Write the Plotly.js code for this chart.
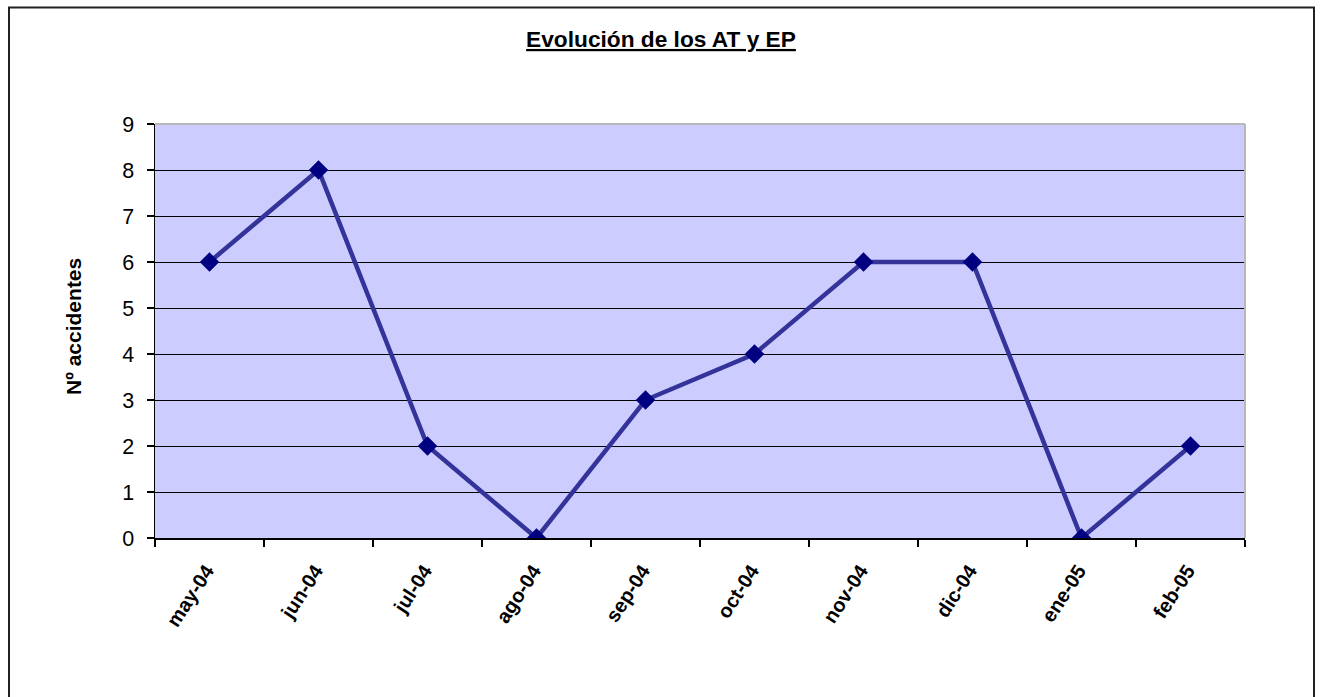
<!DOCTYPE html>
<html>
<head>
<meta charset="utf-8">
<script src="https://cdn.plot.ly/plotly-3.0.1.min.js"></script>
<style>html,body{margin:0;padding:0;background:#fff;}</style>
</head>
<body>
<div id="chart" style="width:1322px;height:697px;"></div>
<script>
const months = ["may-04","jun-04","jul-04","ago-04","sep-04","oct-04","nov-04","dic-04","ene-05","feb-05"];
const accidents = [6, 8, 2, 0, 3, 4, 6, 6, 0, 2];
const yTicks = [0,1,2,3,4,5,6,7,8,9];
const chartTitle = "Evolución de los AT y EP";
const yTitle = "Nº accidentes";

const L = 155, R = 1245, T = 124, B = 538, W = 1322, H = 697;
const pw = R - L, ph = B - T;
const px = v => (v - L) / pw;
const py = v => (B - v) / ph;

const trace = {
  x: months,
  y: accidents,
  type: "scatter",
  mode: "lines+markers",
  line: {color: "#333399", width: 4.5},
  marker: {symbol: "diamond", size: 15, color: "#000080", line: {width: 0}},
  hoverinfo: "x+y"
};

const layout = {
  width: W, height: H,
  margin: {l: L, r: W - R, t: T, b: H - B, pad: 0},
  paper_bgcolor: "#ffffff",
  plot_bgcolor: "#CCCCFF",
  showlegend: false,
  font: {family: "Liberation Sans, Arial, sans-serif", color: "#000"},
  title: {
    text: "<b><u>" + chartTitle + "</u></b>",
    font: {size: 22.7, color: "#000"},
    x: 0.5, xref: "container", xanchor: "center",
    y: 1 - 39 / H, yref: "container", yanchor: "middle"
  },
  xaxis: {
    type: "category",
    tickson: "boundaries",
    tickvals: months,
    ticktext: months.map(m => m + "\u00a0"),
    ticks: "outside", ticklen: 7, tickwidth: 1.5, tickcolor: "#000",
    ticklabelstandoff: 7,
    showline: true, linecolor: "#000", linewidth: 1.5,
    showgrid: false, zeroline: false,
    tickangle: -57,
    tickfont: {size: 20, color: "#000", weight: "bold"},
    range: [-0.5, months.length - 0.5],
    fixedrange: true
  },
  yaxis: {
    range: [0, 9],
    tickvals: yTicks,
    ticktext: yTicks.map(String),
    ticks: "outside", ticklen: 7, tickwidth: 1.5, tickcolor: "#000",
    ticklabelstandoff: 8,
    showline: true, linecolor: "#000", linewidth: 1.5,
    showgrid: true, gridcolor: "#000", gridwidth: 1,
    zeroline: false,
    tickfont: {size: 21.5, color: "#000"},
    fixedrange: true
  },
  annotations: [{
    text: "<b>" + yTitle + "</b>",
    xref: "paper", yref: "paper",
    x: px(73), y: py(327),
    xanchor: "center", yanchor: "middle",
    textangle: -90, showarrow: false,
    font: {size: 21, color: "#000"}
  }],
  shapes: [
    {type: "line", xref: "paper", yref: "paper", x0: 0, x1: 1, y0: 1, y1: 1,
     line: {color: "#b8b8b8", width: 2}},
    {type: "line", xref: "paper", yref: "paper", x0: 1, x1: 1, y0: 0, y1: 1,
     line: {color: "#b8b8b8", width: 2}},
    {type: "rect", xref: "paper", yref: "paper",
     x0: px(9), x1: px(1314), y0: py(710), y1: py(7.5),
     line: {color: "#222", width: 2}, fillcolor: "rgba(0,0,0,0)"}
  ]
};

Plotly.newPlot("chart", [trace], layout, {displayModeBar: false, staticPlot: true});
</script>
</body>
</html>
